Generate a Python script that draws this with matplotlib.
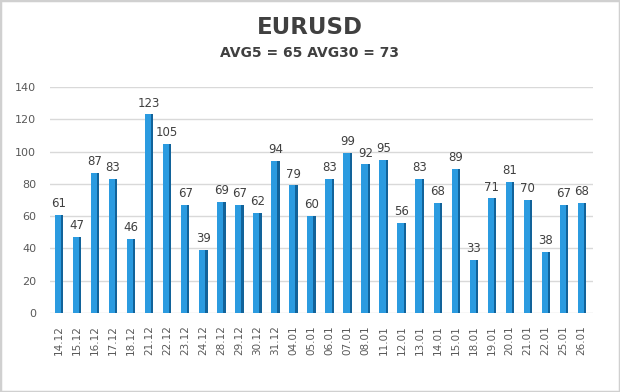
import matplotlib.pyplot as plt
from matplotlib.patches import Rectangle
import numpy as np

dates = ["14.12", "15.12", "16.12", "17.12", "18.12", "21.12", "22.12", "23.12", "24.12",
         "28.12", "29.12", "30.12", "31.12", "04.01", "05.01", "06.01", "07.01", "08.01",
         "11.01", "12.01", "13.01", "14.01", "15.01", "18.01", "19.01", "20.01", "21.01",
         "22.01", "25.01", "26.01"]
values = [61, 47, 87, 83, 46, 123, 105, 67, 39, 69, 67, 62, 94, 79, 60, 83, 99, 92,
          95, 56, 83, 68, 89, 33, 71, 81, 70, 38, 67, 68]
title = "EURUSD"
subtitle = "AVG5 = 65 AVG30 = 73"

fig = plt.figure(figsize=(6.2, 3.92), dpi=100)
ax = fig.add_axes([50 / 620, 1 - 313 / 392, 543 / 620, 226 / 392])

x = np.arange(len(values))
# front face and darker side face for a pseudo 3D column look
ax.bar(x - 0.05, values, width=0.34, color="#2b9be0", zorder=3)
ax.bar(x + 0.18, values, width=0.12, color="#12639a", zorder=3)

for xi, v in zip(x, values):
    ax.text(xi, v + 3, str(v), ha="center", va="bottom", fontsize=8.5, color="#404040")

ax.set_ylim(0, 140)
ax.set_yticks(range(0, 141, 20))
ax.set_xlim(-0.5, len(values) - 0.37)
ax.set_xticks(x)
ax.set_xticklabels(dates, rotation=90, fontsize=7.5, color="#595959")
ax.tick_params(axis="y", labelsize=8, colors="#595959", length=0, pad=10)
ax.tick_params(axis="x", length=0, pad=9)
ax.grid(axis="y", color="#d9d9d9", linewidth=1, zorder=0)
for s in ax.spines.values():
    s.set_visible(False)

fig.text(0.5, 1 - 27 / 392, title, ha="center", va="center", fontsize=16.5,
         fontweight="bold", color="#404040")
fig.text(0.5, 1 - 53 / 392, subtitle, ha="center", va="center", fontsize=10,
         fontweight="bold", color="#404040")

fig.patches.append(Rectangle((0, 0), 1, 1, transform=fig.transFigure, fill=False,
                             edgecolor="#d0d0d0", linewidth=2.5))

fig.savefig("out.png", dpi=100)
